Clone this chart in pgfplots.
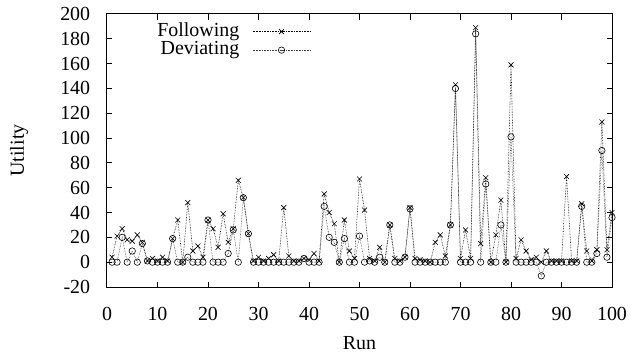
\documentclass[border=0pt]{standalone}
\usepackage{fontspec}
\setmainfont{Liberation Serif}
\usepackage{pgfplots}
\pgfplotsset{compat=1.18}
\usepackage{pgfplotstable}
\usetikzlibrary{calc}
\pgfplotstableread{
run F D
1 4 0
2 21 0
3 27 20
4 18 0
5 17 9
6 22 0
7 16 15
8 1 1
9 3 0
10 1 0
11 4 0
12 1 0
13 19 19
14 34 0
15 0 0
16 48 4
17 9 0
18 13 0
19 4 0
20 34 34
21 27 0
22 12 0
23 39 0
24 16 7
25 27 26
26 66 0
27 52 52
28 23 23
29 1 0
30 4 0
31 1 0
32 3 0
33 6 0
34 1 0
35 44 0
36 5 0
37 1 0
38 1 0
39 3 3
40 2 0
41 7 0
42 1 0
43 55 45
44 40 20
45 31 16
46 0 0
47 34 19
48 9 0
49 3 0
50 67 21
51 42 0
52 3 1
53 1 0
54 12 4
55 0 0
56 30 30
57 3 0
58 1 0
59 4 4
60 44 43
61 3 0
62 2 0
63 1 0
64 0 0
65 16 0
66 22 0
67 5 0
68 30 30
69 143 140
70 3 0
71 26 0
72 3 0
73 189 184
74 15 0
75 68 63
76 0 0
77 22 0
78 50 30
79 0 0
80 159 101
81 3 0
82 18 0
83 9 0
84 2 0
85 4 0
86 0 -11
87 9 0
88 1 0
89 1 0
90 1 0
91 69 0
92 1 0
93 1 0
94 47 45
95 9 0
96 1 0
97 10 7
98 113 90
99 10 4
100 40 36
}\datatable
\begin{document}
\fontsize{20}{24}\selectfont
\begin{tikzpicture}
\begin{axis}[
  name=ax,
  scale only axis,
  width=505bp, height=273bp,
  xmin=0, xmax=100, ymin=-20, ymax=200,
  xtick={0,10,...,100},
  ytick={-20,0,...,200},
  tick pos=both,
  tick align=inside,
  major tick length=5.5bp,
  axis line style={line width=1bp},
  every tick/.style={line width=1bp,black},
  /pgf/number format/assume math mode=true,
  xticklabel style={yshift=-13bp},
  yticklabel style={xshift=-10bp},
  xlabel={Run}, ylabel={Utility},
  every axis x label/.style={at={(rel axis cs:0.5,0)},anchor=center,yshift=-56bp},
  every axis y label/.style={at={(rel axis cs:0,0.5)},anchor=center,xshift=-88bp,rotate=90},
  legend style={draw=none, fill=none, at={(rel axis cs:0.404,0.97)}, anchor=north east,
    legend cell align=right, row sep=0pt, inner sep=0pt,
    nodes={inner sep=0pt, text height=14bp, text depth=4.5bp}},
  legend plot pos=right,
  legend image code/.code={\path (0bp,0bp); \draw[#1, mark repeat=2, mark phase=2] plot coordinates {(13bp,0bp) (42bp,0bp) (71bp,0bp)};},
]
\addplot[black, densely dotted, line width=0.6pt, mark=x, mark size=3.5bp, mark options={solid, line width=0.6pt}] table[x=run,y=F] {\datatable};
\addlegendentry{Following}
\addplot[black!75, densely dotted, line width=0.6pt, mark=o, mark size=3.2bp, mark options={solid, black, line width=0.6pt}] table[x=run,y=D] {\datatable};
\addlegendentry{Deviating}
\end{axis}
\pgfresetboundingbox
\path[use as bounding box] ($(ax.south west)+(-107bp,-67bp)$) rectangle ($(ax.north east)+(20bp,14bp)$);
\end{tikzpicture}
\end{document}
